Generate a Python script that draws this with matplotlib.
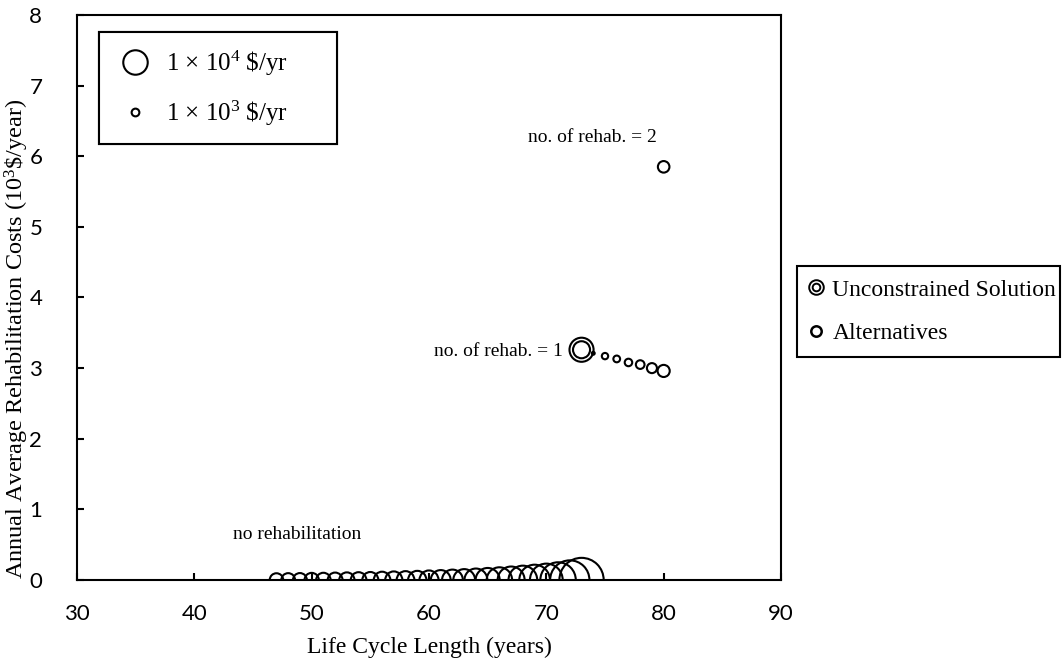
import matplotlib.pyplot as plt
from matplotlib.lines import Line2D
from matplotlib.legend_handler import HandlerTuple

plt.rcParams['font.family'] = 'Liberation Serif'
plt.rcParams['mathtext.fontset'] = 'custom'
plt.rcParams['mathtext.rm'] = 'Liberation Serif'
plt.rcParams['mathtext.it'] = 'Liberation Serif:italic'

# --- Daten ---
# keine Sanierung: Lebensdauer, jährliche Sanierungskosten (10^3 $/a), Blasengröße ($/a)
years_0 = [47, 48, 49, 50, 51, 52, 53, 54, 55, 56, 57, 58, 59, 60,
           61, 62, 63, 64, 65, 66, 67, 68, 69, 70, 71, 72, 73]
cost_0 = [0.0] * len(years_0)
bubble_0 = [3040, 3130, 3210, 3400, 3490, 3680, 3870, 4070, 4270, 4590,
            4910, 5250, 5600, 6080, 6580, 7230, 7920, 8780, 9690, 10800,
            12150, 13760, 15670, 17920, 20990, 25800, 32800]

# eine Sanierung: ungebundene Lösung + Alternativen
opt_year = [73]
opt_cost = [3.26]
opt_bubble = [9700]
years_1 = [74, 75, 76, 77, 78, 79, 80]
cost_1 = [3.21, 3.17, 3.13, 3.08, 3.05, 3.00, 2.96]
bubble_1 = [140, 675, 760, 940, 1255, 1680, 2460]

# zwei Sanierungen
years_2 = [80]
cost_2 = [5.85]
bubble_2 = [2230]

# Legende der Blasengrößen
legend_sizes = [10000, 1000]
legend_labels = ['1 × 10$^4$ \\$/yr', '1 × 10$^3$ \\$/yr']

S = 310 / 1e4  # pt^2 pro $/yr
lw = 1.5

fig = plt.figure(figsize=(10.62, 6.63), dpi=100)
ax = fig.add_axes([0.0725, 0.1252, 0.6629, 0.8522])

ax.scatter(years_0, cost_0, s=[b * S for b in bubble_0], facecolors='none',
           edgecolors='black', linewidths=lw, zorder=3)
ax.scatter(years_1, cost_1, s=[b * S for b in bubble_1], facecolors='none',
           edgecolors='black', linewidths=lw, zorder=3)
ax.scatter(years_2, cost_2, s=[b * S for b in bubble_2], facecolors='none',
           edgecolors='black', linewidths=lw, zorder=3)
# Doppelkreis für die ungebundene Lösung
ax.scatter(opt_year, opt_cost, s=[b * S for b in opt_bubble], facecolors='none',
           edgecolors='black', linewidths=lw, zorder=3)
ax.scatter(opt_year, opt_cost, s=[b * S * 0.5 for b in opt_bubble], facecolors='none',
           edgecolors='black', linewidths=lw, zorder=3)

ax.text(48.8, 0.65, 'no rehabilitation', ha='center', va='center', fontsize=14)
ax.text(71.4, 3.23, 'no. of rehab. = 1', ha='right', va='center', fontsize=14)
ax.text(79.45, 6.27, 'no. of rehab. = 2', ha='right', va='center', fontsize=14)

ax.set_xlim(30, 90)
ax.set_ylim(0, 8)
ax.set_xticks(range(30, 91, 10))
ax.set_yticks(range(0, 9))
for sp in ax.spines.values():
    sp.set_linewidth(lw)
ax.tick_params(axis='both', direction='in', length=5, width=lw)
ax.tick_params(axis='x', pad=17)
ax.tick_params(axis='y', pad=25)
for t in ax.get_xticklabels() + ax.get_yticklabels():
    t.set_fontfamily('Lato')
    t.set_fontsize(16)

ax.set_xlabel('Life Cycle Length (years)', fontsize=17)
ax.set_ylabel('Annual Average Rehabilitation Costs (10$^3$\\$/year)', fontsize=17.5)
ax.xaxis.set_label_coords(0.5, -0.1)
ax.yaxis.set_label_coords(-0.065, 0.427)

# Legende Blasengrößen
size_handles = [Line2D([], [], ls='none', marker='o', mfc='none', mec='black', mew=lw,
                       markersize=(v * S) ** 0.5) for v in legend_sizes]
leg1 = ax.legend(size_handles, legend_labels, loc='upper left',
                 bbox_to_anchor=(99 / 1062, 1 - 32 / 663 - 0.17, 238 / 1062, 0.17),
                 bbox_transform=fig.transFigure, mode='expand', fontsize=18,
                 frameon=True, fancybox=False, edgecolor='black', framealpha=1,
                 labelspacing=0.85, borderpad=0.65, handlelength=1.6,
                 handletextpad=0.45, borderaxespad=0)
leg1.get_frame().set_linewidth(lw)
ax.add_artist(leg1)

# Legende Serien
h_opt = (Line2D([], [], ls='none', marker='o', mfc='none', mec='black', mew=1.4, markersize=10.5),
         Line2D([], [], ls='none', marker='o', mfc='none', mec='black', mew=1.4, markersize=5.5))
h_alt = Line2D([], [], ls='none', marker='o', mfc='none', mec='black', mew=1.8, markersize=7.5)
leg2 = fig.legend([h_opt, h_alt], ['Unconstrained Solution', 'Alternatives'],
                  handler_map={tuple: HandlerTuple(ndivide=1)},
                  loc='upper left',
                  bbox_to_anchor=(797 / 1062, 1 - 266 / 663 - 0.14, 263 / 1062, 0.14),
                  mode='expand', fontsize=17, frameon=True, fancybox=False,
                  edgecolor='black', framealpha=1, handlelength=0.5,
                  handletextpad=0.45, labelspacing=0.95, borderpad=0.55, borderaxespad=0)
leg2.get_frame().set_linewidth(lw)

fig.savefig('out.png', dpi=100)
